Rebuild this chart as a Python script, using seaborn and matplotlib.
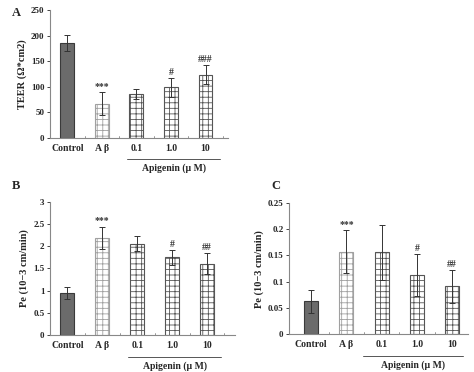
import matplotlib
matplotlib.use("Agg")
import matplotlib.pyplot as plt
import seaborn as sns
import numpy as np

# Data
groups = ["Control", "A \u03b2", "0.1", "1.0", "10"]

teer_mean = [186, 67, 86, 99, 124]
teer_err = [16, 23, 9, 18, 18]
teer_marks = ["", "***", "", "#", "###"]

pe_b_mean = [0.95, 2.19, 2.06, 1.75, 1.61]
pe_b_err = [0.13, 0.25, 0.17, 0.17, 0.23]
pe_b_marks = ["", "***", "", "#", "##"]

pe_c_mean = [0.063, 0.157, 0.156, 0.112, 0.091]
pe_c_err = [0.022, 0.041, 0.052, 0.040, 0.031]
pe_c_marks = ["", "***", "", "#", "##"]

sns.set_style("white")
plt.rcParams["font.family"] = ["Liberation Serif", "DejaVu Serif"]
plt.rcParams["font.weight"] = "bold"
plt.rcParams["hatch.linewidth"] = 0.6

fig = plt.figure(figsize=(4.74, 3.72), dpi=100)

panels = [
    # axes rect, values, ylim, yticks, ticklabels, ylabel, xlim, letter pos, bracket
    ([0.1055, 0.629, 0.3755, 0.344], teer_mean, teer_err, teer_marks,
     (0, 250), np.arange(0, 251, 50), None, "TEER (\u03a9*cm2)",
     (-0.5, 4.65), "A", (0.025, 0.965), (1.74, 4.43)),
    ([0.1055, 0.0995, 0.390, 0.3575], pe_b_mean, pe_b_err, pe_b_marks,
     (0, 3), np.arange(0, 3.01, 0.5), ["0", "0.5", "1", "1.5", "2", "2.5", "3"],
     "Pe (10\u22123 cm/min)", (-0.5, 4.8), "B", (0.025, 0.50), (1.74, 4.4)),
    ([0.6097, 0.102, 0.3776, 0.352], pe_c_mean, pe_c_err, pe_c_marks,
     (0, 0.25), np.arange(0, 0.251, 0.05), ["0", "0.05", "0.1", "0.15", "0.2", "0.25"],
     "Pe (10\u22123 cm/min)", (-0.63, 4.45), "C", (0.572, 0.50), (1.46, 4.3)),
]

face = ["#6b6b6b", "white", "white", "white", "white"]
edge = ["#3a3a3a", "#a0a0a0", "#555555", "#555555", "#555555"]
hatch = ["", "+++", "+++", "+++", "+++"]

for rect, mean, err, marks, ylim, yticks, ylabels, ylabel, xlim, letter, lpos, bracket in panels:
    ax = fig.add_axes(rect)
    sns.barplot(x=groups, y=mean, ax=ax, width=0.4, errorbar=None, color="white")
    for p, fc, ec, h in zip(ax.patches, face, edge, hatch):
        p.set_facecolor(fc)
        p.set_edgecolor(ec)
        p.set_hatch(h)
        p.set_linewidth(0.8)
    ax.errorbar(range(len(groups)), mean, yerr=err, fmt="none",
                ecolor="#333333", elinewidth=0.7, capsize=2, capthick=0.7)
    span = ylim[1] - ylim[0]
    for i, m in enumerate(marks):
        if m:
            ax.text(i, mean[i] + err[i] + span * 0.01, m, ha="center", va="bottom",
                    fontsize=7, color="#333333")
    ax.set_ylim(*ylim)
    ax.set_xlim(*xlim)
    ax.set_yticks(yticks)
    if ylabels is not None:
        ax.set_yticklabels(ylabels)
    ax.tick_params(axis="y", labelsize=6.5, length=2, width=0.6, pad=2, direction="out", left=True)
    ax.tick_params(axis="x", labelsize=7, length=0, pad=4)
    ax.set_ylabel(ylabel, fontsize=7.5, fontweight="bold", labelpad=3)
    sns.despine(ax=ax)
    for s in ["left", "bottom"]:
        ax.spines[s].set_color("#888888")
        ax.spines[s].set_linewidth(0.8)
    # small ticks between categories on the x axis
    for xb in np.arange(0.5, 4.6, 1.0):
        if xb < xlim[1]:
            ax.plot([xb, xb], [0, span * 0.012], color="#888888", lw=0.6, clip_on=False)
    # bracket under apigenin groups
    trans = ax.get_xaxis_transform()
    ax.plot(list(bracket), [-0.165, -0.165], transform=trans, color="#555555",
            lw=0.7, clip_on=False)
    ax.text(np.mean(bracket), -0.2, "Apigenin (\u03bc M)", transform=trans,
            ha="center", va="top", fontsize=7)
    fig.text(lpos[0], lpos[1], letter, fontsize=9, fontweight="bold", ha="left", va="center")

fig.savefig("out.png", dpi=100)
